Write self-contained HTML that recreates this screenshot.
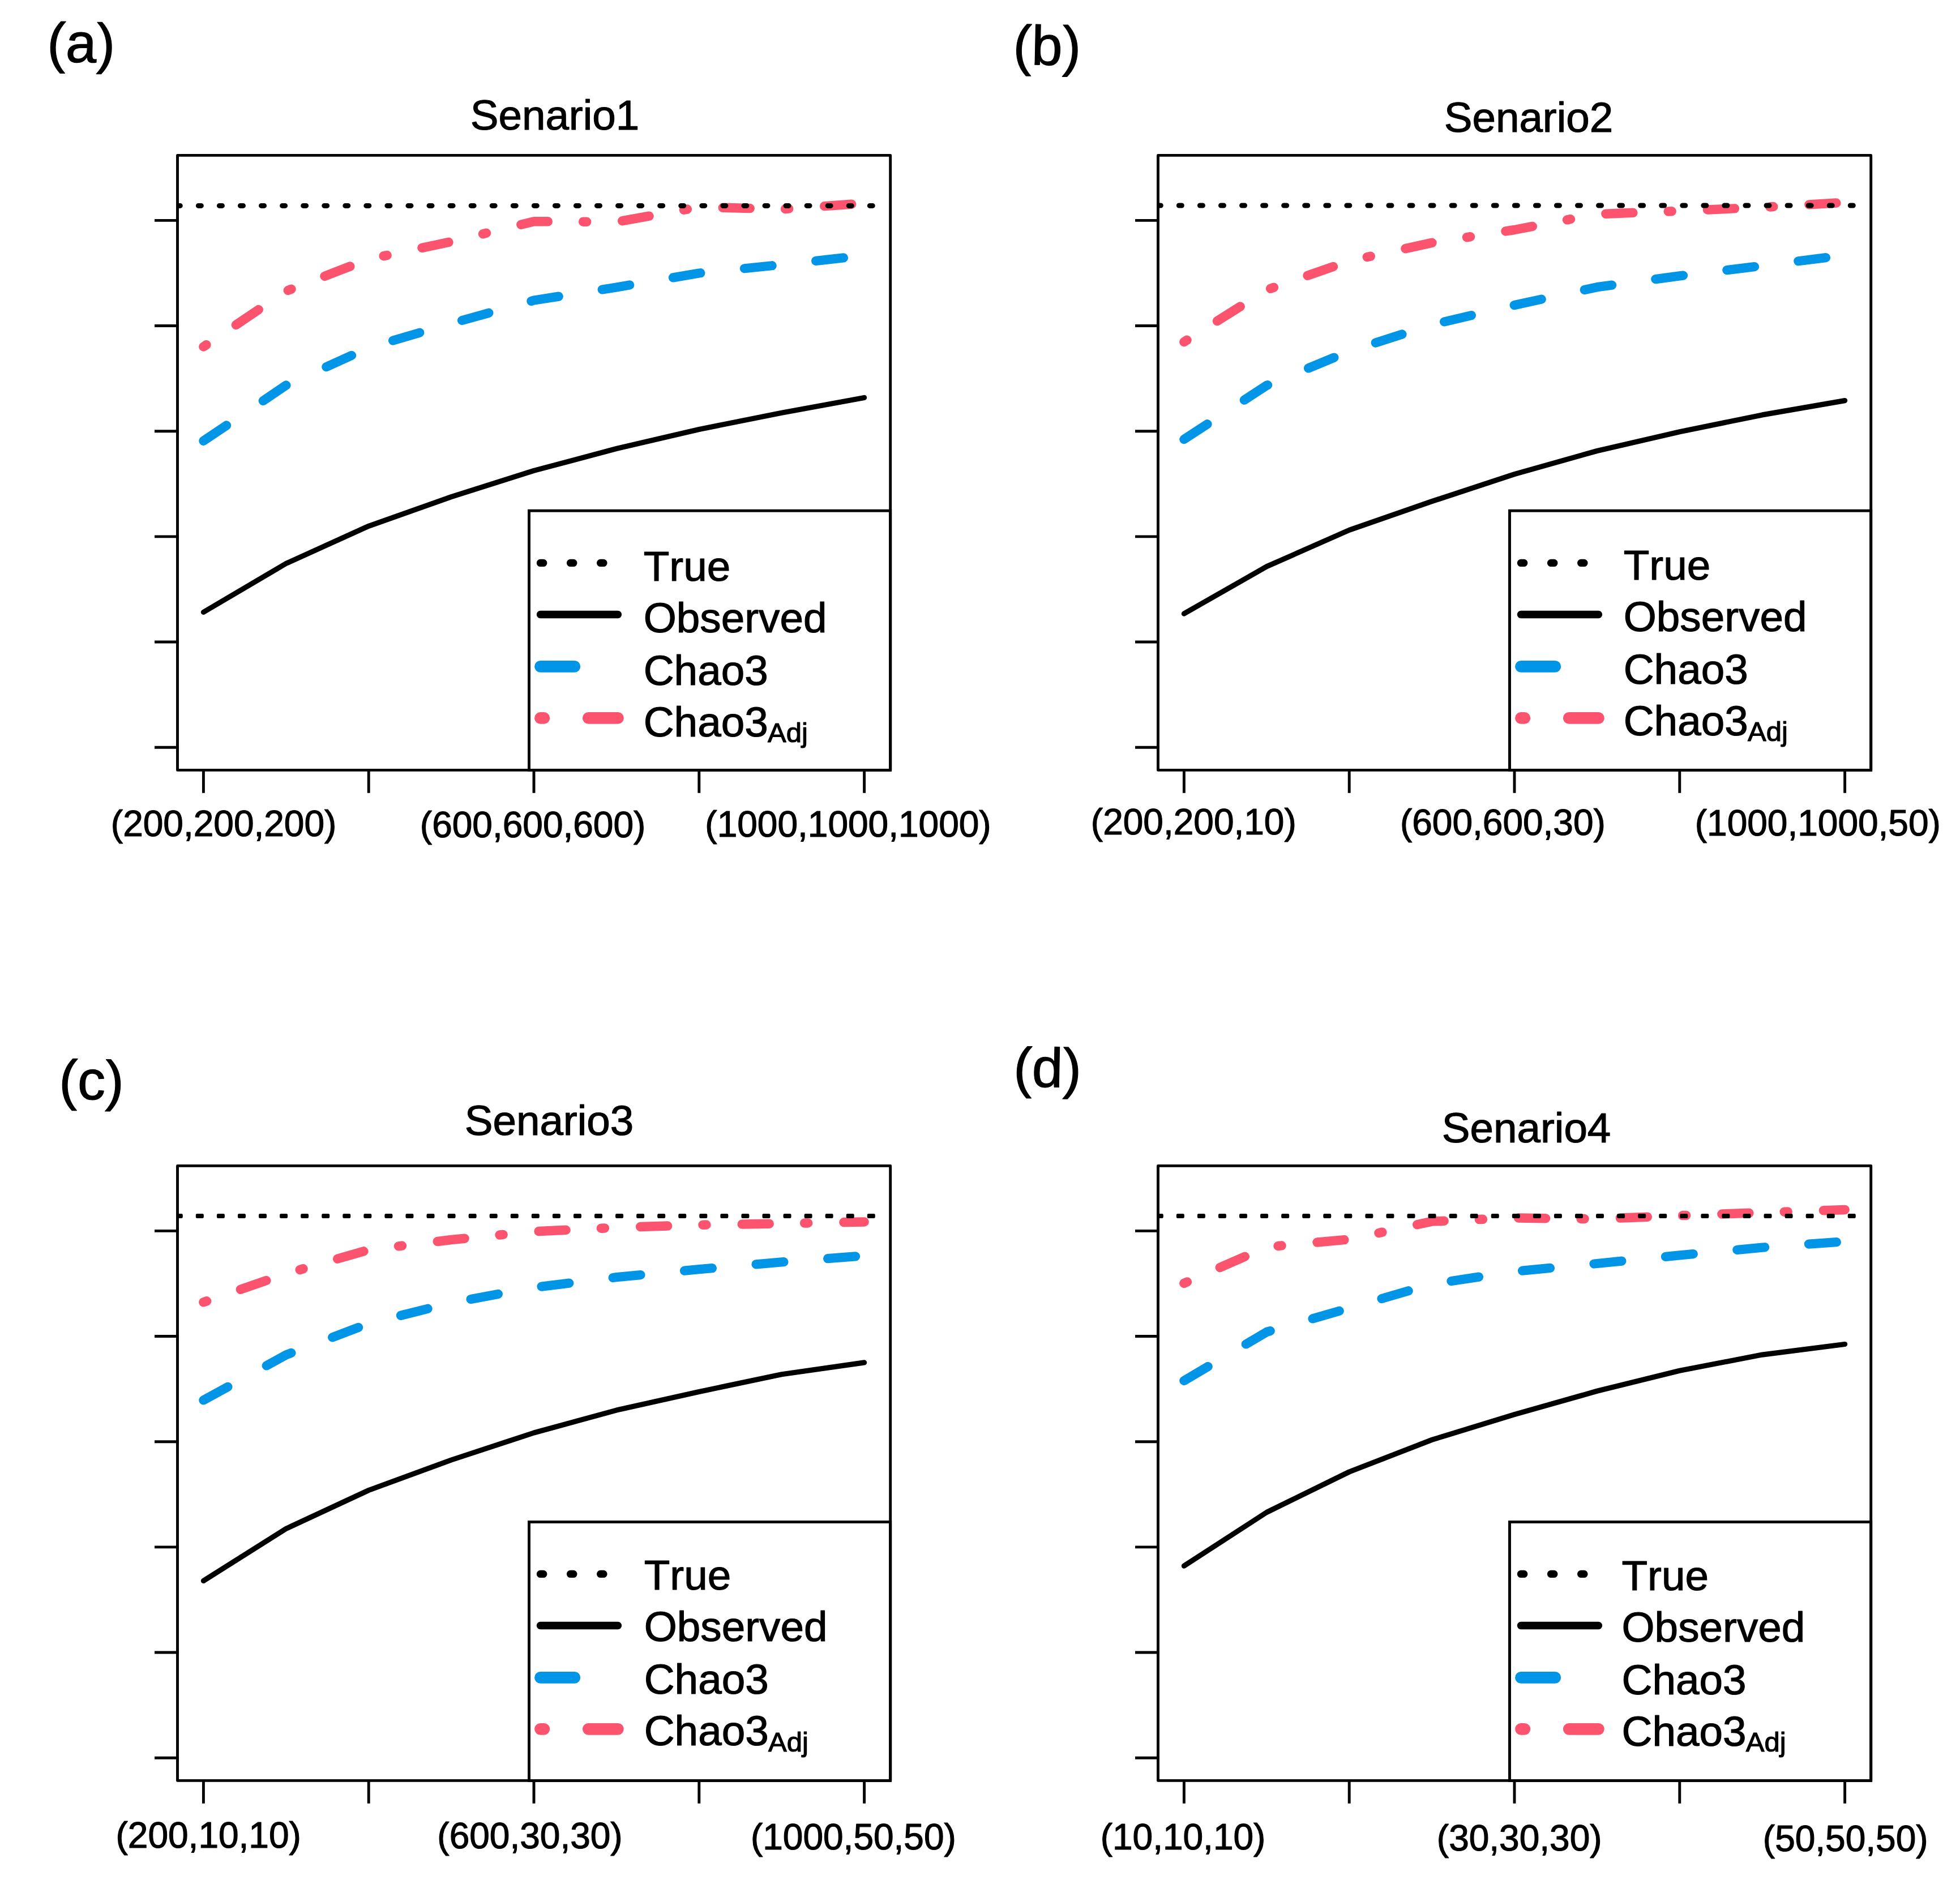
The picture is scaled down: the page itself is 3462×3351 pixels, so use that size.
<!DOCTYPE html>
<html lang="en"><head><meta charset="utf-8"><title>Figure</title>
<style>html,body{margin:0;padding:0;background:#fff}svg{display:block}text{font-family:"Liberation Sans", Arial, Helvetica, sans-serif;fill:#000;stroke:#000;stroke-width:1.2px;stroke-linejoin:round;font-kerning:none;font-variant-ligatures:none}.ax{font-size:64.0px}.ti{font-size:74.6px}.pl{font-size:98.0px}.lg{font-size:74.7px}.sub{font-size:49.0px}</style></head><body>
<svg width="3462" height="3351" viewBox="0 0 3462 3351">
<rect x="0" y="0" width="3462" height="3351" fill="#fff"/>
<g>
<path d="M359.4 1081.4 L505.3 995.4 L651.2 929.3 L797.1 877.7 L943 831.4 L1088.9 792.5 L1234.8 758.4 L1380.7 729.3 L1526.6 702.4" fill="none" stroke="#000" stroke-width="9.2" stroke-linecap="round" stroke-linejoin="round"/>
<path d="M359.4 778.8 L505.3 680.6 L651.2 614.1 L797.1 571.3 L943 530.5 L1088.9 507.5 L1234.8 482.5 L1380.7 467.5 L1526.6 451.4" fill="none" stroke="#0095E6" stroke-width="16.3" stroke-linecap="round" stroke-linejoin="round" stroke-dasharray="49 78"/>
<path d="M359.4 612.5 L505.3 514.3 L651.2 457.8 L797.1 426.9 L943 391.2 L1088.9 392.1 L1234.8 365.8 L1380.7 369.5 L1526.6 359.1" fill="none" stroke="#FC546E" stroke-width="16.5" stroke-linecap="round" stroke-linejoin="round" stroke-dasharray="6 63.3 48 62.4"/>
<clipPath id="clip-a"><rect x="313.5" y="274.4" width="1259.2" height="1086"/></clipPath>
<g clip-path="url(#clip-a)">
<path d="M313.3 363.4 H1543.5" fill="none" stroke="#000" stroke-width="9" stroke-linecap="round" stroke-dasharray="5 32.06"/>
</g>
<rect x="934.5" y="902.2" width="638.2" height="458.2" fill="#fff" stroke="#000" stroke-width="4.9"/>
<path d="M954.5 994.4 H1091.4" fill="none" stroke="#000" stroke-width="13.4" stroke-linecap="round" stroke-dasharray="5.2 47.9"/>
<path d="M954.5 1085.5 H1091.4" fill="none" stroke="#000" stroke-width="13.4" stroke-linecap="round"/>
<path d="M954.5 1177.4 H1091.4" fill="none" stroke="#0095E6" stroke-width="20.8" stroke-linecap="round" stroke-dasharray="60.3 200"/>
<path d="M954.5 1268.3 H1091.4" fill="none" stroke="#FC546E" stroke-width="20.8" stroke-linecap="round" stroke-dasharray="6.3 78.5 62 80"/>
<text class="lg" x="1136.7" y="1026">True</text>
<text class="lg" x="1136.7" y="1117.1">Observed</text>
<text class="lg" x="1136.7" y="1209.9">Chao3</text>
<text class="lg" x="1136.7" y="1300.8">Chao3<tspan class="sub" dx="-0.8" dy="10.6">Adj</tspan></text>
<rect x="313.5" y="274.4" width="1259.2" height="1086" fill="none" stroke="#000" stroke-width="4.9" stroke-linejoin="round"/>
<path d="M359.4 1360.4 v38M651.2 1360.4 v38M943 1360.4 v38M1234.8 1360.4 v38M1526.6 1360.4 v38M313.5 389.4 h-38M313.5 575.56 h-38M313.5 761.72 h-38M313.5 947.88 h-38M313.5 1134.04 h-38M313.5 1320.2 h-38" fill="none" stroke="#000" stroke-width="4.9" stroke-linecap="square"/>
<text class="pl" x="82.82" y="108.5" transform="rotate(1.2 82.82 108.5)">(a)</text>
<text class="ti" x="830.67" y="229.2">Senario1</text>
<text class="ax" x="195.83" y="1476.9">(200,200,200)</text>
<text class="ax" x="741.83" y="1479.1">(600,600,600)</text>
<text class="ax" x="1245.33" y="1478.3">(1000,1000,1000)</text>
</g>
<g>
<path d="M2091.4 1084.1 L2237.3 1000.8 L2383.2 936.4 L2529.1 885.7 L2675 837.6 L2820.9 796.5 L2966.8 762.8 L3112.7 732.9 L3258.6 707.6" fill="none" stroke="#000" stroke-width="9.2" stroke-linecap="round" stroke-linejoin="round"/>
<path d="M2091.4 776 L2237.3 680.9 L2383.2 620.5 L2529.1 573.6 L2675 539 L2820.9 507.2 L2966.8 487.3 L3112.7 469.4 L3258.6 450.8" fill="none" stroke="#0095E6" stroke-width="16.3" stroke-linecap="round" stroke-linejoin="round" stroke-dasharray="49 78"/>
<path d="M2091.4 604 L2237.3 512.2 L2383.2 461 L2529.1 428.9 L2675 406 L2820.9 378.3 L2966.8 372.7 L3112.7 366.2 L3258.6 357.7" fill="none" stroke="#FC546E" stroke-width="16.5" stroke-linecap="round" stroke-linejoin="round" stroke-dasharray="6 63.3 48 62.4"/>
<clipPath id="clip-b"><rect x="2045.5" y="274.4" width="1259.2" height="1086"/></clipPath>
<g clip-path="url(#clip-b)">
<path d="M2045.3 363 H3275.5" fill="none" stroke="#000" stroke-width="9" stroke-linecap="round" stroke-dasharray="5 32.06"/>
</g>
<rect x="2666.5" y="902.2" width="638.2" height="458.2" fill="#fff" stroke="#000" stroke-width="4.9"/>
<path d="M2686.5 994.4 H2823.4" fill="none" stroke="#000" stroke-width="13.4" stroke-linecap="round" stroke-dasharray="5.2 47.9"/>
<path d="M2686.5 1085.5 H2823.4" fill="none" stroke="#000" stroke-width="13.4" stroke-linecap="round"/>
<path d="M2686.5 1177.4 H2823.4" fill="none" stroke="#0095E6" stroke-width="20.8" stroke-linecap="round" stroke-dasharray="60.3 200"/>
<path d="M2686.5 1268.3 H2823.4" fill="none" stroke="#FC546E" stroke-width="20.8" stroke-linecap="round" stroke-dasharray="6.3 78.5 62 80"/>
<text class="lg" x="2867.7" y="1024">True</text>
<text class="lg" x="2867.7" y="1115.1">Observed</text>
<text class="lg" x="2867.7" y="1207.9">Chao3</text>
<text class="lg" x="2867.7" y="1298.8">Chao3<tspan class="sub" dx="-0.8" dy="10.6">Adj</tspan></text>
<rect x="2045.5" y="274.4" width="1259.2" height="1086" fill="none" stroke="#000" stroke-width="4.9" stroke-linejoin="round"/>
<path d="M2091.4 1360.4 v38M2383.2 1360.4 v38M2675 1360.4 v38M2966.8 1360.4 v38M3258.6 1360.4 v38M2045.5 389.4 h-38M2045.5 575.56 h-38M2045.5 761.72 h-38M2045.5 947.88 h-38M2045.5 1134.04 h-38M2045.5 1320.2 h-38" fill="none" stroke="#000" stroke-width="4.9" stroke-linecap="square"/>
<text class="pl" x="1788.92" y="113.3" transform="rotate(1.2 1788.92 113.3)">(b)</text>
<text class="ti" x="2550.67" y="233">Senario2</text>
<text class="ax" x="1926.83" y="1473.5">(200,200,10)</text>
<text class="ax" x="2472.93" y="1475.1">(600,600,30)</text>
<text class="ax" x="2993.73" y="1475.9">(1000,1000,50)</text>
</g>
<g>
<path d="M359.4 2792.5 L505.3 2700.4 L651.2 2632.5 L797.1 2579 L943 2531 L1088.9 2491.1 L1234.8 2458.4 L1380.7 2427.8 L1526.6 2406.9" fill="none" stroke="#000" stroke-width="9.2" stroke-linecap="round" stroke-linejoin="round"/>
<path d="M359.4 2473.4 L505.3 2393.4 L651.2 2338.1 L797.1 2301.3 L943 2274.3 L1088.9 2256.2 L1234.8 2242.2 L1380.7 2229.4 L1526.6 2218.3" fill="none" stroke="#0095E6" stroke-width="16.3" stroke-linecap="round" stroke-linejoin="round" stroke-dasharray="49 78"/>
<path d="M359.4 2300.3 L505.3 2250 L651.2 2207.8 L797.1 2190 L943 2175.5 L1088.9 2168.4 L1234.8 2163.8 L1380.7 2161.3 L1526.6 2158.4" fill="none" stroke="#FC546E" stroke-width="16.5" stroke-linecap="round" stroke-linejoin="round" stroke-dasharray="6 63.3 48 62.4"/>
<clipPath id="clip-c"><rect x="313.5" y="2059.4" width="1259.2" height="1086"/></clipPath>
<g clip-path="url(#clip-c)">
<path d="M311 2146.3h9.6v3.4h-9.6zM348.06 2146.3h9.6v3.4h-9.6zM385.12 2146.3h9.6v3.4h-9.6zM422.18 2146.3h9.6v3.4h-9.6zM459.24 2146.3h9.6v3.4h-9.6zM496.3 2146.3h9.6v3.4h-9.6zM533.36 2146.3h9.6v3.4h-9.6zM570.42 2146.3h9.6v3.4h-9.6zM607.48 2146.3h9.6v3.4h-9.6zM644.54 2146.3h9.6v3.4h-9.6zM681.6 2146.3h9.6v3.4h-9.6zM718.66 2146.3h9.6v3.4h-9.6zM755.72 2146.3h9.6v3.4h-9.6zM792.78 2146.3h9.6v3.4h-9.6zM829.84 2146.3h9.6v3.4h-9.6zM866.9 2146.3h9.6v3.4h-9.6zM903.96 2146.3h9.6v3.4h-9.6zM941.02 2146.3h9.6v3.4h-9.6zM978.08 2146.3h9.6v3.4h-9.6zM1015.14 2146.3h9.6v3.4h-9.6zM1052.2 2146.3h9.6v3.4h-9.6zM1089.26 2146.3h9.6v3.4h-9.6zM1126.32 2146.3h9.6v3.4h-9.6zM1163.38 2146.3h9.6v3.4h-9.6zM1200.44 2146.3h9.6v3.4h-9.6zM1237.5 2146.3h9.6v3.4h-9.6zM1274.56 2146.3h9.6v3.4h-9.6zM1311.62 2146.3h9.6v3.4h-9.6zM1348.68 2146.3h9.6v3.4h-9.6zM1385.74 2146.3h9.6v3.4h-9.6zM1422.8 2146.3h9.6v3.4h-9.6zM1459.86 2146.3h9.6v3.4h-9.6zM1496.92 2146.3h9.6v3.4h-9.6zM1533.98 2146.3h9.6v3.4h-9.6z" fill="#000" stroke="#000" stroke-width="4.4" stroke-linejoin="round"/>
</g>
<rect x="934.5" y="2688.5" width="638.2" height="456.9" fill="#fff" stroke="#000" stroke-width="4.9"/>
<path d="M954.5 2780.4 H1091.4" fill="none" stroke="#000" stroke-width="13.4" stroke-linecap="round" stroke-dasharray="5.2 47.9"/>
<path d="M954.5 2871.5 H1091.4" fill="none" stroke="#000" stroke-width="13.4" stroke-linecap="round"/>
<path d="M954.5 2963.4 H1091.4" fill="none" stroke="#0095E6" stroke-width="20.8" stroke-linecap="round" stroke-dasharray="60.3 200"/>
<path d="M954.5 3054.3 H1091.4" fill="none" stroke="#FC546E" stroke-width="20.8" stroke-linecap="round" stroke-dasharray="6.3 78.5 62 80"/>
<text class="lg" x="1137.7" y="2808.1">True</text>
<text class="lg" x="1137.7" y="2899.2">Observed</text>
<text class="lg" x="1137.7" y="2992">Chao3</text>
<text class="lg" x="1137.7" y="3082.9">Chao3<tspan class="sub" dx="-0.8" dy="10.6">Adj</tspan></text>
<rect x="313.5" y="2059.4" width="1259.2" height="1086" fill="none" stroke="#000" stroke-width="4.9" stroke-linejoin="round"/>
<path d="M359.4 3145.4 v38M651.2 3145.4 v38M943 3145.4 v38M1234.8 3145.4 v38M1526.6 3145.4 v38M313.5 2174.4 h-38M313.5 2360.56 h-38M313.5 2546.72 h-38M313.5 2732.88 h-38M313.5 2919.04 h-38M313.5 3105.2 h-38" fill="none" stroke="#000" stroke-width="4.9" stroke-linecap="square"/>
<text class="pl" x="103.82" y="1940.8" transform="rotate(1.2 103.82 1940.8)">(c)</text>
<text class="ti" x="820.67" y="2004.5">Senario3</text>
<text class="ax" x="204.53" y="3263.5">(200,10,10)</text>
<text class="ax" x="772.33" y="3264.6">(600,30,30)</text>
<text class="ax" x="1325.93" y="3267">(1000,50,50)</text>
</g>
<g>
<path d="M2091.4 2766.2 L2237.3 2671.5 L2383.2 2600 L2529.1 2543.4 L2675 2498.6 L2820.9 2457.3 L2966.8 2421.2 L3112.7 2393.1 L3258.6 2374.5" fill="none" stroke="#000" stroke-width="9.2" stroke-linecap="round" stroke-linejoin="round"/>
<path d="M2091.4 2438.9 L2237.3 2352.9 L2383.2 2310.7 L2529.1 2268.2 L2675 2246 L2820.9 2232 L2966.8 2217.3 L3112.7 2203.6 L3258.6 2193" fill="none" stroke="#0095E6" stroke-width="16.3" stroke-linecap="round" stroke-linejoin="round" stroke-dasharray="49 78"/>
<path d="M2091.4 2266.9 L2237.3 2202.8 L2383.2 2189.3 L2529.1 2157.6 L2675 2151.5 L2820.9 2153.3 L2966.8 2147.3 L3112.7 2142 L3258.6 2136.9" fill="none" stroke="#FC546E" stroke-width="16.5" stroke-linecap="round" stroke-linejoin="round" stroke-dasharray="6 63.3 48 62.4"/>
<clipPath id="clip-d"><rect x="2045.5" y="2059.4" width="1259.2" height="1086"/></clipPath>
<g clip-path="url(#clip-d)">
<path d="M2043 2146.3h9.6v3.4h-9.6zM2080.06 2146.3h9.6v3.4h-9.6zM2117.12 2146.3h9.6v3.4h-9.6zM2154.18 2146.3h9.6v3.4h-9.6zM2191.24 2146.3h9.6v3.4h-9.6zM2228.3 2146.3h9.6v3.4h-9.6zM2265.36 2146.3h9.6v3.4h-9.6zM2302.42 2146.3h9.6v3.4h-9.6zM2339.48 2146.3h9.6v3.4h-9.6zM2376.54 2146.3h9.6v3.4h-9.6zM2413.6 2146.3h9.6v3.4h-9.6zM2450.66 2146.3h9.6v3.4h-9.6zM2487.72 2146.3h9.6v3.4h-9.6zM2524.78 2146.3h9.6v3.4h-9.6zM2561.84 2146.3h9.6v3.4h-9.6zM2598.9 2146.3h9.6v3.4h-9.6zM2635.96 2146.3h9.6v3.4h-9.6zM2673.02 2146.3h9.6v3.4h-9.6zM2710.08 2146.3h9.6v3.4h-9.6zM2747.14 2146.3h9.6v3.4h-9.6zM2784.2 2146.3h9.6v3.4h-9.6zM2821.26 2146.3h9.6v3.4h-9.6zM2858.32 2146.3h9.6v3.4h-9.6zM2895.38 2146.3h9.6v3.4h-9.6zM2932.44 2146.3h9.6v3.4h-9.6zM2969.5 2146.3h9.6v3.4h-9.6zM3006.56 2146.3h9.6v3.4h-9.6zM3043.62 2146.3h9.6v3.4h-9.6zM3080.68 2146.3h9.6v3.4h-9.6zM3117.74 2146.3h9.6v3.4h-9.6zM3154.8 2146.3h9.6v3.4h-9.6zM3191.86 2146.3h9.6v3.4h-9.6zM3228.92 2146.3h9.6v3.4h-9.6zM3265.98 2146.3h9.6v3.4h-9.6z" fill="#000" stroke="#000" stroke-width="4.4" stroke-linejoin="round"/>
</g>
<rect x="2666.5" y="2688.5" width="638.2" height="456.9" fill="#fff" stroke="#000" stroke-width="4.9"/>
<path d="M2686.5 2780.4 H2823.4" fill="none" stroke="#000" stroke-width="13.4" stroke-linecap="round" stroke-dasharray="5.2 47.9"/>
<path d="M2686.5 2871.5 H2823.4" fill="none" stroke="#000" stroke-width="13.4" stroke-linecap="round"/>
<path d="M2686.5 2963.4 H2823.4" fill="none" stroke="#0095E6" stroke-width="20.8" stroke-linecap="round" stroke-dasharray="60.3 200"/>
<path d="M2686.5 3054.3 H2823.4" fill="none" stroke="#FC546E" stroke-width="20.8" stroke-linecap="round" stroke-dasharray="6.3 78.5 62 80"/>
<text class="lg" x="2864.5" y="2809">True</text>
<text class="lg" x="2864.5" y="2900.1">Observed</text>
<text class="lg" x="2864.5" y="2992.9">Chao3</text>
<text class="lg" x="2864.5" y="3083.8">Chao3<tspan class="sub" dx="-0.8" dy="10.6">Adj</tspan></text>
<rect x="2045.5" y="2059.4" width="1259.2" height="1086" fill="none" stroke="#000" stroke-width="4.9" stroke-linejoin="round"/>
<path d="M2091.4 3145.4 v38M2383.2 3145.4 v38M2675 3145.4 v38M2966.8 3145.4 v38M3258.6 3145.4 v38M2045.5 2174.4 h-38M2045.5 2360.56 h-38M2045.5 2546.72 h-38M2045.5 2732.88 h-38M2045.5 2919.04 h-38M2045.5 3105.2 h-38" fill="none" stroke="#000" stroke-width="4.9" stroke-linecap="square"/>
<text class="pl" x="1789.72" y="1918.9" transform="rotate(1.2 1789.72 1918.9)">(d)</text>
<text class="ti" x="2546.77" y="2017.8">Senario4</text>
<text class="ax" x="1943.63" y="3266.8">(10,10,10)</text>
<text class="ax" x="2537.83" y="3268.6">(30,30,30)</text>
<text class="ax" x="3113.83" y="3269.6">(50,50,50)</text>
</g>
</svg></body></html>
